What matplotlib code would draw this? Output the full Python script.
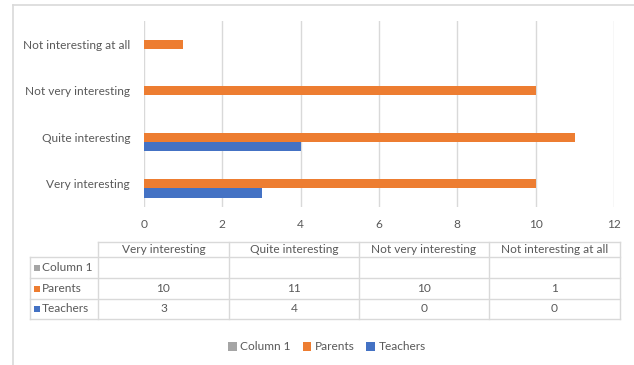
import numpy as np
import matplotlib.pyplot as plt
from matplotlib.patches import Rectangle
from matplotlib.lines import Line2D

plt.rcParams['font.family'] = ['Lato', 'DejaVu Sans']

# DATA
categories = ["Very interesting", "Quite interesting", "Not very interesting", "Not interesting at all"]
series_names = ["Column 1", "Parents", "Teachers"]
column1 = [np.nan, np.nan, np.nan, np.nan]
parents = [10, 11, 10, 1]
teachers = [3, 4, 0, 0]
xticks = [0, 2, 4, 6, 8, 10, 12]

GRAY = "#A5A5A5"
ORANGE = "#ED7D31"
BLUE = "#4472C4"
GRID = "#D9D9D9"
TXT = "#595959"
FS = 8.6

W, H = 634, 365
def fx(x):
    return x / W
def fy(y):
    return 1 - y / H

fig = plt.figure(figsize=(W / 100, H / 100), dpi=100)

# outer chart border (left + top only, rest is cropped)
fig.add_artist(Line2D([fx(13), fx(13)], [fy(5), 0], color=GRID, lw=1.2))
fig.add_artist(Line2D([fx(13), 1], [fy(5), fy(5)], color=GRID, lw=1.2))

ax = fig.add_axes([fx(144), fy(207), fx(614) - fx(144), (207 - 21) / H])
y = np.arange(len(categories))
bh = 0.204
ax.barh(y + bh, column1, height=bh, color=GRAY, label=series_names[0])
ax.barh(y, parents, height=bh, color=ORANGE, label=series_names[1])
ax.barh(y - bh, teachers, height=bh, color=BLUE, label=series_names[2])

ax.set_xlim(0, 12)
ax.set_ylim(-0.5, 3.5)
ax.set_xticks(xticks)
ax.set_yticks(y)
ax.set_yticklabels(categories)
ax.tick_params(length=0, labelsize=FS, colors=TXT)
ax.tick_params(axis='x', pad=9)
ax.tick_params(axis='y', pad=10)
ax.grid(axis='x', color=GRID, lw=1)
ax.set_axisbelow(True)
for s in ax.spines.values():
    s.set_visible(False)

# data table under the axis
col_x = [98, 229, 359, 489, 620]
row_y = [242, 257, 278, 299, 319]
lk = dict(color=GRID, lw=1)
fig.add_artist(Line2D([fx(98), fx(620)], [fy(242), fy(242)], **lk))
for yy in row_y[1:]:
    fig.add_artist(Line2D([fx(30), fx(620)], [fy(yy), fy(yy)], **lk))
fig.add_artist(Line2D([fx(30), fx(30)], [fy(257), fy(319)], **lk))
for xx in col_x:
    fig.add_artist(Line2D([fx(xx), fx(xx)], [fy(242), fy(319)], **lk))

for i, c in enumerate(categories):
    cx = (col_x[i] + col_x[i + 1]) / 2
    fig.text(fx(cx), fy(249.5), c, ha='center', va='center', fontsize=FS, color=TXT)

rows = [column1, parents, teachers]
colors = [GRAY, ORANGE, BLUE]
for r in range(3):
    cy = (row_y[r + 1] + row_y[r + 2]) / 2
    fig.add_artist(Rectangle((fx(34), fy(cy + 3)), 6 / W, 6 / H, color=colors[r], lw=0))
    fig.text(fx(42), fy(cy), series_names[r], ha='left', va='center', fontsize=FS, color=TXT)
    for i, v in enumerate(rows[r]):
        if np.isnan(v):
            continue
        cx = (col_x[i] + col_x[i + 1]) / 2
        fig.text(fx(cx), fy(cy), str(int(v)), ha='center', va='center', fontsize=FS, color=TXT)

fig.legend(loc='center', bbox_to_anchor=(fx(327), fy(347)), ncol=3, frameon=False,
           fontsize=FS, labelcolor=TXT, handlelength=0.7, handleheight=0.7,
           handletextpad=0.3, columnspacing=1.0)

fig.savefig("out.png", dpi=100)
